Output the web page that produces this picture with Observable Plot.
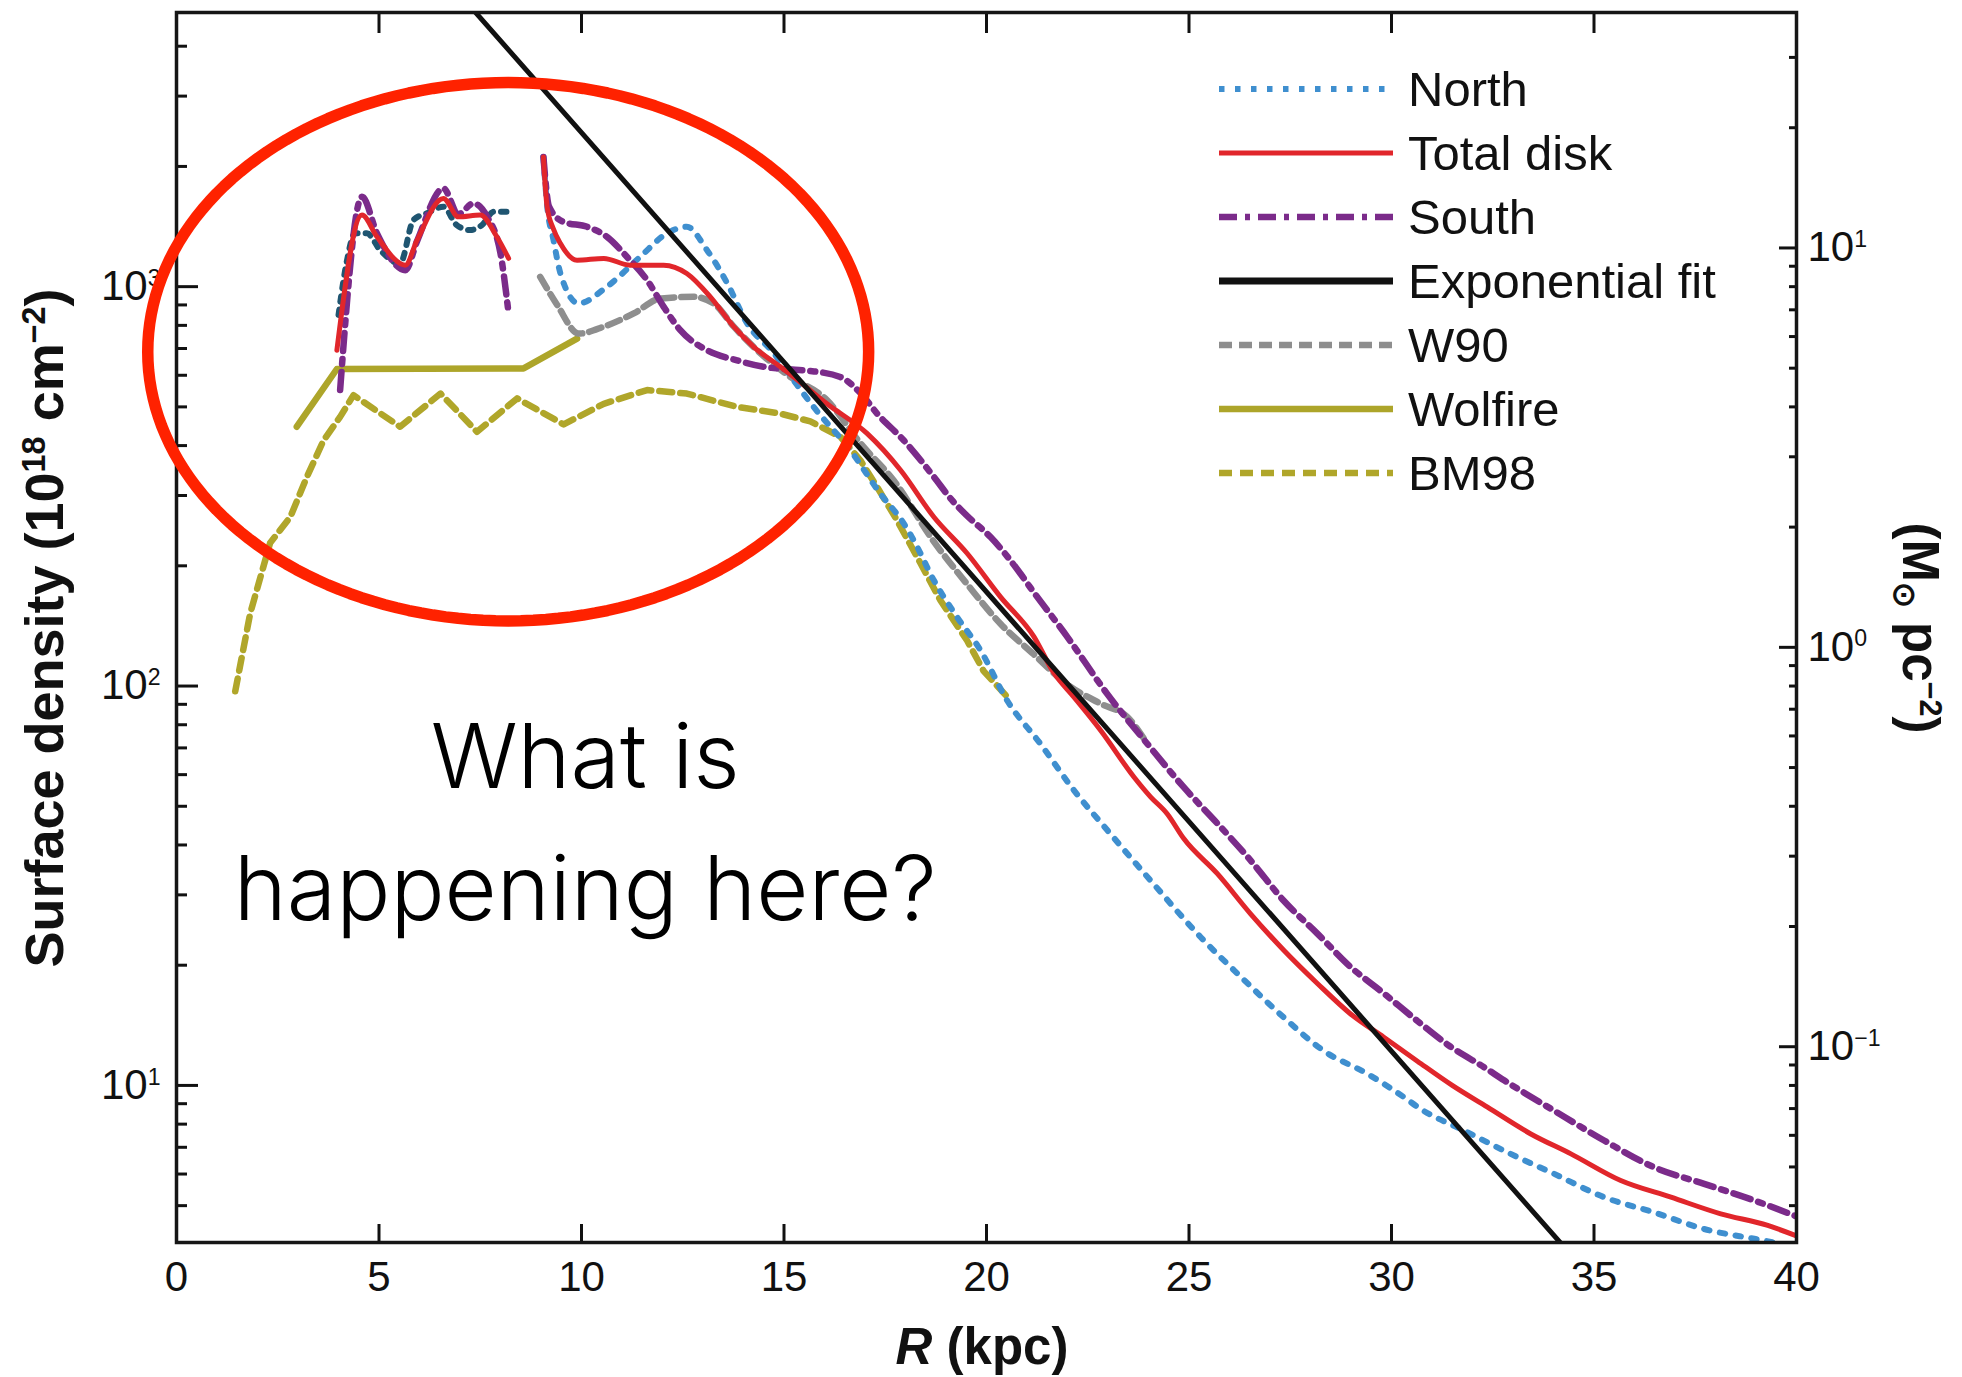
<!DOCTYPE html>
<html>
<head>
<meta charset="utf-8">
<script src="https://cdn.jsdelivr.net/npm/d3@7"></script>
<script src="https://cdn.jsdelivr.net/npm/@observablehq/plot@0.6"></script>
<style>
  html, body { margin: 0; padding: 0; background: #ffffff; }
  #chart { width: 1962px; height: 1377px; }
</style>
</head>
<body>
<div id="chart"></div>
<script>
// HI surface-density profiles: [R (kpc), N_HI (10^18 cm^-2)]
const northInner = [[4.0,849],[4.2,1150],[4.41,1360],[4.7,1360],[5.03,1234],[5.52,1143],[5.85,1468],[6.2,1530],[6.59,1585],[6.92,1426],[7.25,1386],[7.54,1426],[7.83,1540],[8.16,1540]];
const northOuter = [[9.06,2113],[9.15,1600],[9.31,1307],[9.48,1079],[9.93,908],[10.63,1000],[11.45,1188],[12.11,1360],[12.6,1412],[13.1,1234],[13.6,1019],[14.09,809],[14.75,681],[15.2,590],[15.73,500],[16.64,389],[17.38,303],[17.96,255],[18.2,232],[18.7,184],[19.27,149],[19.85,123],[20.51,92],[21.33,71.7],[22.16,54.8],[22.98,43.6],[24.05,32.6],[25.29,23.5],[26.28,18.7],[27.34,14.8],[28.33,12.2],[29.4,10.7],[30.31,9.34],[30.72,8.73],[31.79,7.71],[32.94,6.74],[34.01,6.01],[35.25,5.25],[36.48,4.81],[37.72,4.37],[38.96,4.13],[40,3.95]];
const totalInner = [[3.96,693],[4.58,1511],[4.95,1333],[5.65,1132],[5.94,1307],[6.59,1663],[6.96,1496],[7.5,1511],[7.91,1333],[8.2,1177]];
const totalOuter = [[9.06,2113],[9.15,1585],[9.3,1400],[9.48,1282],[9.89,1165],[10.55,1177],[11.2,1132],[12.03,1132],[12.6,1079],[13.18,943],[13.76,794],[14.25,707],[14.91,630],[15.24,594],[16.06,509],[17.05,429],[17.88,347],[18.7,265],[19.52,215],[20.35,167],[21.17,133],[21.66,108],[22.16,93.8],[22.82,77.4],[23.64,59.2],[24.05,52.8],[24.46,47.9],[24.87,41.5],[25.7,33.9],[26.52,26.9],[27.34,21.8],[28.17,18.0],[28.99,15.1],[29.81,13.2],[30.64,11.5],[31.5,10.0],[32.37,8.82],[33.44,7.56],[34.43,6.74],[35.66,5.78],[36.9,5.25],[38.13,4.77],[39.29,4.46],[40,4.2]];
const southInner = [[4.04,551],[4.58,1679],[4.95,1360],[5.65,1100],[5.94,1300],[6.59,1762],[6.96,1520],[7.33,1616],[7.67,1496],[8.0,1211],[8.2,857]];
const southOuter = [[9.06,2113],[9.2,1585],[9.56,1452],[10.14,1412],[10.63,1333],[11.12,1188],[11.62,1038],[12.03,890],[12.44,778],[13.1,693],[13.84,654],[14.5,630],[15.2,620],[15.65,615],[16.39,594],[16.9,540],[17.3,481],[17.96,412],[18.7,334],[19.11,295],[19.5,268],[20.1,236],[20.84,191],[21.09,176],[21.99,133],[22.98,95.6],[23.97,71.7],[24.87,55.8],[25.7,45.3],[26.52,36.6],[27.34,29.0],[28.17,24.0],[28.99,19.8],[29.81,17.0],[30.64,14.5],[31.46,12.5],[32.29,11.1],[32.78,10.3],[34.01,8.65],[35.25,7.28],[36.48,6.24],[37.72,5.67],[38.96,5.15],[40,4.7]];
const w90 = [[8.98,1058],[9.4,900],[9.93,763],[10.55,794],[11.29,857],[11.95,934],[12.77,943],[13.26,908],[13.76,794],[14.42,681],[15.1,600],[16.06,520],[16.89,405],[17.71,327],[18.7,230],[19.52,180],[20.35,143],[21.17,120],[21.99,101],[22.82,90.3],[23.48,83.6],[23.97,71.7]];
const wolfire = [[2.97,446],[3.96,622],[8.57,624],[9.89,741]];
const bm98 = [[1.45,97],[1.82,152],[2.31,228],[2.81,265],[3.22,334],[3.63,412],[4.04,472],[4.37,535],[5.52,446],[6.52,540],[7.42,433],[8.41,525],[9.56,452],[10.55,509],[11.62,551],[12.6,540],[13.84,500],[14.91,481],[15.65,460],[16.39,421],[16.89,367],[17.3,315],[17.79,260],[18.37,203],[18.86,164],[19.52,130],[19.93,109],[20.51,94]];
// exponential disk fit, straight in log space
const expFit = [[7.0,5380],[34.5,3.70]];

// axes
const xTicks = [0, 5, 10, 15, 20, 25, 30, 35, 40];
const yDomain = [4.043, 4858];
const yMajor = [10, 100, 1000];
const yMinor = [5,6,7,8,9,20,30,40,50,60,70,80,90,200,300,400,500,600,700,800,900,2000,3000,4000];
const MSUN_PC2 = 125;            // 1 M_sun pc^-2 of HI = 1.25e20 cm^-2
const rightMajor = [0.1, 1, 10];
const rightMinor = [0.04,0.05,0.06,0.07,0.08,0.09,0.2,0.3,0.4,0.5,0.6,0.7,0.8,0.9,2,3,4,5,6,7,8,9,20,30];

// line styles
const styles = {
  north:      {stroke: "#3f8fcf", strokeWidth: 6,   dash: "5.5,10.5", curve: "monotone-x"},
  northInner: {stroke: "#1f5571", strokeWidth: 6,   dash: "5.5,8",    curve: "monotone-x"},
  total:      {stroke: "#e1262b", strokeWidth: 5,   dash: null,       curve: "monotone-x"},
  south:      {stroke: "#7b2b8a", strokeWidth: 6.5, dash: "18,8,5,8", curve: "monotone-x"},
  fit:        {stroke: "#111111", strokeWidth: 5,   dash: null,       curve: "linear"},
  w90:        {stroke: "#8e8e8e", strokeWidth: 6.5, dash: "13,7",     curve: "monotone-x"},
  wolfire:    {stroke: "#ada52a", strokeWidth: 6.5, dash: null,       curve: "linear"},
  bm98:       {stroke: "#b0a62a", strokeWidth: 6.5, dash: "13,8",     curve: "linear"}
};

const series = [
  {data: bm98, style: "bm98"},
  {data: wolfire, style: "wolfire"},
  {data: w90, style: "w90"},
  {data: northInner, style: "northInner"},
  {data: northOuter, style: "north"},
  {data: southInner, style: "south"},
  {data: southOuter, style: "south"},
  {data: totalInner, style: "total"},
  {data: totalOuter, style: "total"},
  {data: expFit, style: "fit"}
];

const legendKeys = ["north", "total", "south", "fit", "w90", "wolfire", "bm98"];
const legendLabels = ["North", "Total disk", "South", "Exponential fit", "W90", "Wolfire", "BM98"];

// highlighted inner region (centre and semi-axes in R and in decades)
const ring = {centerR: 8.19, centerLog: 2.837, radiusR: 8.90, radiusLog: 0.674};
const ringPath = d3.range(0, 360, 2).map(a => {
  const t = a * Math.PI / 180;
  return [ring.centerR + ring.radiusR * Math.cos(t), 10 ** (ring.centerLog + ring.radiusLog * Math.sin(t))];
});
const question = [
  {text: "What is", R: 10.09, value: 65.5},
  {text: "happening here?", R: 10.09, value: 30.6}
];

const pow10 = e => `10^${e < 0 ? "\u2212" + (-e) : e}`;

const lineMarks = series.map(s => {
  const st = styles[s.style];
  return Plot.line(s.data, {
    x: d => d[0], y: d => d[1],
    stroke: st.stroke, strokeWidth: st.strokeWidth,
    strokeDasharray: st.dash ?? undefined,
    curve: st.curve,
    clip: true
  });
});

const chart = Plot.plot({
  width: 1962,
  height: 1377,
  marginLeft: 176,
  marginRight: 166,
  marginTop: 12,
  marginBottom: 135,
  style: {fontFamily: "'Liberation Sans', Arial, sans-serif", fontSize: "42px", color: "#111", background: "#fff"},
  x: {domain: [0, 40]},
  y: {type: "log", domain: yDomain},
  marks: [
    ...lineMarks,
    Plot.axisX(xTicks, {anchor: "bottom", tickSize: -18, tickPadding: 37, strokeWidth: 3, label: null}),
    Plot.axisX(xTicks.slice(1, -1), {anchor: "top", tickSize: -20, tickFormat: () => "", strokeWidth: 3, label: null}),
    Plot.axisY(yMajor, {anchor: "left", tickSize: -22, tickPadding: 38, strokeWidth: 3, tickFormat: d => pow10(Math.round(Math.log10(d))), label: null}),
    Plot.axisY(yMinor, {anchor: "left", tickSize: -11, strokeWidth: 3, tickFormat: () => "", label: null}),
    Plot.axisY(rightMajor.map(v => v * MSUN_PC2), {anchor: "right", tickSize: -18, tickPadding: 29, strokeWidth: 3, tickFormat: d => pow10(Math.round(Math.log10(d / MSUN_PC2))), label: null}),
    Plot.axisY(rightMinor.map(v => v * MSUN_PC2), {anchor: "right", tickSize: -8, strokeWidth: 3, tickFormat: () => "", label: null}),
    Plot.frame({stroke: "#161616", strokeWidth: 3.5}),
    Plot.line(ringPath, {x: d => d[0], y: d => d[1], stroke: "#ff2200", strokeWidth: 11.5, curve: "linear-closed"}),
    Plot.text(question, {x: "R", y: "value", text: "text", fontSize: 90, fontFamily: "Inter, 'Noto Sans', sans-serif", fontWeight: 300, fill: "#000", textAnchor: "middle", lineAnchor: "middle"})
  ]
});

document.getElementById("chart").appendChild(chart);

const ns = "http://www.w3.org/2000/svg";
const svg = d3.select(chart);

// empty tick labels (top axis, minor ticks) are removed; powers of ten get real superscripts
chart.querySelectorAll('g[aria-label$="tick label"] text').forEach(t => {
  const s = t.textContent;
  if (s === "") { t.remove(); return; }
  const m = /^10\^(.+)$/.exec(s);
  if (!m) return;
  t.textContent = "10";
  const sup = document.createElementNS(ns, "tspan");
  sup.setAttribute("font-size", "0.55em");
  sup.setAttribute("dy", "-0.62em");
  sup.textContent = m[1];
  t.appendChild(sup);
});

// axis titles
function addRich(g, parts, size) {
  const text = g.append("text").attr("font-size", size);
  parts.forEach(p => {
    const ts = text.append("tspan").text(p.t);
    if (p.italic) ts.attr("font-style", "italic");
    if (p.shift) ts.attr("font-size", size * 0.6).attr("dy", p.shift);
    if (p.back) ts.attr("dy", p.back);
  });
  return text;
}

const titles = svg.append("g")
  .attr("font-family", "'Liberation Sans', Arial, sans-serif")
  .attr("font-weight", "bold")
  .attr("fill", "#111")
  .attr("text-anchor", "middle");

addRich(titles.append("g").attr("transform", "translate(44,628) rotate(-90)"), [
  {t: "Surface density (10"},
  {t: "18", shift: -18},
  {t: " cm", back: 18},
  {t: "\u22122", shift: -18},
  {t: ")", back: 18}
], 54).attr("dy", "0.35em");

addRich(titles.append("g").attr("transform", "translate(1921,628) rotate(90)"), [
  {t: "(M"},
  {t: "\u2299", shift: 9},
  {t: " pc", back: -9},
  {t: "\u22122", shift: -17},
  {t: ")", back: 17}
], 51).attr("dy", "0.35em");

addRich(titles.append("g").attr("transform", "translate(982,1364)"), [
  {t: "R", italic: true},
  {t: " (kpc)"}
], 51);

// legend
const legend = svg.append("g")
  .attr("font-family", "'Liberation Sans', Arial, sans-serif")
  .attr("font-size", 49)
  .attr("fill", "#111")
  .attr("text-anchor", "start");
legendKeys.forEach((k, i) => {
  const st = styles[k];
  const y = 89 + i * 64;
  legend.append("line")
    .attr("x1", 1219).attr("x2", 1393).attr("y1", y).attr("y2", y)
    .attr("stroke", st.stroke)
    .attr("stroke-width", k === "fit" ? 7 : st.strokeWidth)
    .attr("stroke-dasharray", st.dash);
  legend.append("text")
    .attr("x", 1408).attr("y", y).attr("dy", "0.35em")
    .text(legendLabels[i]);
});
</script>
</body>
</html>
